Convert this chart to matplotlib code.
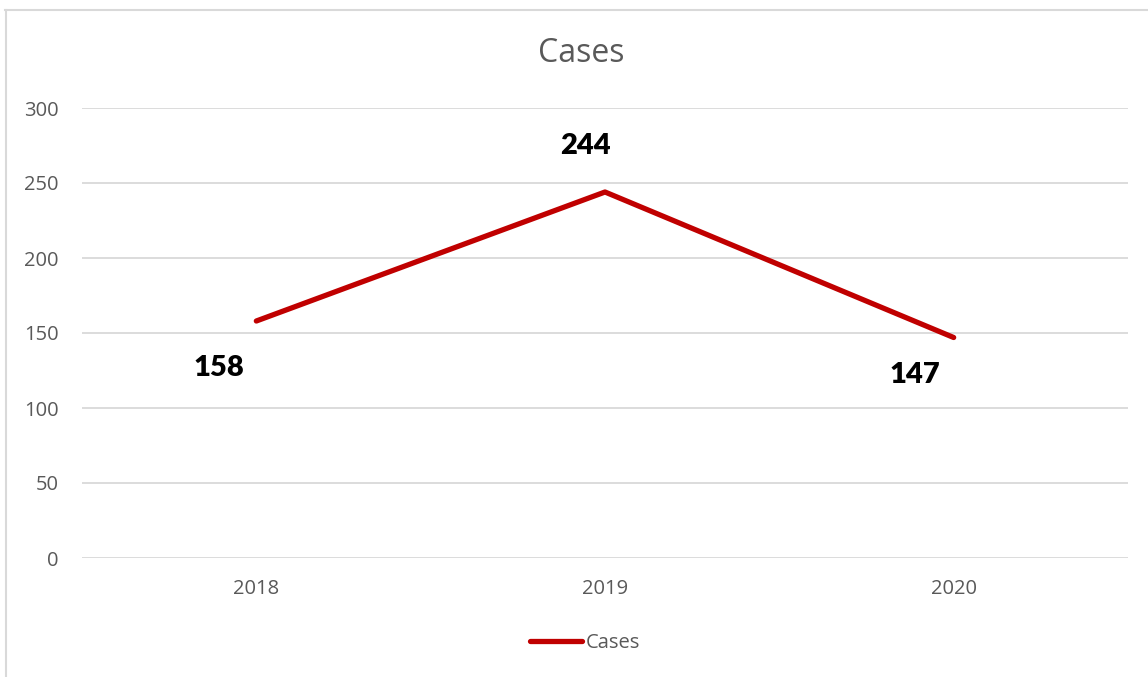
import matplotlib
matplotlib.use("Agg")
import matplotlib.pyplot as plt
from matplotlib.lines import Line2D

categories = ["2018", "2019", "2020"]
cases = [158, 244, 147]
yticks = [0, 50, 100, 150, 200, 250, 300]
series_name = "Cases"
title = "Cases"

W, H = 1148, 677
fig = plt.figure(figsize=(W / 100, H / 100), dpi=100)
fig.patch.set_facecolor("white")

# outer chart border (cropped on right/bottom)
border = "#d9d9d9"
fig.add_artist(Line2D([5.5 / W, 5.5 / W], [0, 1 - 9.5 / H], transform=fig.transFigure, color=border, lw=1.5))
fig.add_artist(Line2D([5 / W, 1], [1 - 9.5 / H, 1 - 9.5 / H], transform=fig.transFigure, color=border, lw=1.5))

ax = fig.add_axes([82 / W, 119 / H, (1128 - 82) / W, 450 / H])
x = list(range(len(categories)))
ax.plot(x, cases, color="#C00000", lw=3.8, solid_capstyle="round", label=series_name, zorder=3)

ax.set_xlim(-0.5, len(categories) - 0.5)
ax.set_ylim(0, 300)
ax.set_yticks(yticks)
ax.set_xticks(x)
ax.set_xticklabels(categories)
ax.grid(axis="y", color="#d9d9d9", lw=1.3)
ax.set_axisbelow(True)
for s in ax.spines.values():
    s.set_visible(False)
ax.tick_params(axis="both", length=0, labelsize=14.5, labelcolor="#595959")
ax.tick_params(axis="y", pad=17)
ax.tick_params(axis="x", pad=15)
for lbl in ax.get_xticklabels() + ax.get_yticklabels():
    lbl.set_fontfamily("Open Sans")

fig.text(581 / W, 1 - 54 / H, title, ha="center", va="center", fontsize=23,
         color="#595959", family="Open Sans")

offsets = [(-27, -34), (-14, 33), (-28, -27)]
for xi, v, off in zip(x, cases, offsets):
    ax.annotate(str(v), (xi, v), xytext=off, textcoords="offset points",
                ha="center", va="center", fontsize=21, fontweight="heavy",
                family="Lato", color="black")

leg = ax.legend(loc="center", bbox_to_anchor=(585 / W, 1 - 643 / H),
                bbox_transform=fig.transFigure, frameon=False, handlelength=2.6,
                handletextpad=0.15, prop={"family": "Open Sans", "size": 14.5})
for t in leg.get_texts():
    t.set_color("#595959")

fig.savefig("out.png", dpi=100, facecolor="white")
